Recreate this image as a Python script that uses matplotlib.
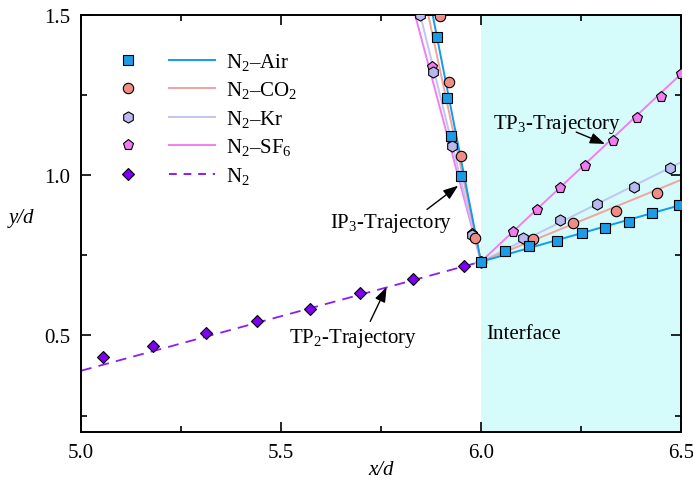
import matplotlib
matplotlib.use("Agg")
import matplotlib.pyplot as plt
from matplotlib.lines import Line2D
from matplotlib.legend_handler import HandlerTuple
from matplotlib.ticker import MultipleLocator, FormatStrFormatter

plt.rcParams["font.family"] = ["Liberation Serif", "DejaVu Serif"]
plt.rcParams["mathtext.fontset"] = "custom"
plt.rcParams["mathtext.rm"] = "Liberation Serif"
plt.rcParams["mathtext.it"] = "Liberation Serif:italic"
plt.rcParams["font.size"] = 15

# N2 single-phase trajectory (TP2)
n2_x = [5.056, 5.181, 5.312, 5.440, 5.572, 5.698, 5.829, 5.958]
n2_y = [0.433, 0.467, 0.508, 0.546, 0.583, 0.632, 0.677, 0.718]
n2_line_x = [5.0, 6.0]
n2_line_y = [0.39, 0.73]

# N2-Air
air_x = [5.891, 5.914, 5.924, 5.949, 6.0, 6.060, 6.121, 6.191, 6.252, 6.310, 6.371, 6.428, 6.496]
air_y = [1.430, 1.240, 1.121, 0.997, 0.73, 0.762, 0.780, 0.793, 0.820, 0.836, 0.853, 0.881, 0.907]
air_line_x = [5.879, 6.0, 6.5]
air_line_y = [1.5, 0.73, 0.907]

# N2-CO2
co2_x = [5.898, 5.921, 5.950, 5.985, 6.0, 6.131, 6.231, 6.338, 6.441]
co2_y = [1.495, 1.291, 1.061, 0.803, 0.73, 0.801, 0.851, 0.889, 0.945]
co2_line_x = [5.868, 6.0, 6.5]
co2_line_y = [1.5, 0.73, 0.985]

# N2-Kr
kr_x = [5.848, 5.881, 5.927, 5.977, 6.0, 6.106, 6.198, 6.289, 6.383, 6.473]
kr_y = [1.500, 1.321, 1.092, 0.812, 0.73, 0.803, 0.861, 0.910, 0.962, 1.021]
kr_line_x = [5.848, 6.0, 6.5]
kr_line_y = [1.5, 0.73, 1.040]

# N2-SF6
sf6_x = [5.877, 5.925, 5.977, 6.0, 6.079, 6.139, 6.198, 6.260, 6.330, 6.390, 6.449, 6.500]
sf6_y = [1.336, 1.113, 0.817, 0.73, 0.824, 0.892, 0.960, 1.028, 1.107, 1.177, 1.244, 1.315]
sf6_line_x = [5.835, 6.0, 6.5]
sf6_line_y = [1.5, 0.73, 1.315]

fig = plt.figure(figsize=(6.93, 4.81), dpi=100)
ax = fig.add_axes([0.1169, 0.1004, 0.8658, 0.8670])

ax.axvspan(6.0, 6.5, color="#d5fbfb", lw=0, zorder=0)

mk = dict(markeredgecolor="black", markeredgewidth=0.8, linestyle="none")

ax.plot(n2_line_x, n2_line_y, color="#8a1cf5", lw=1.3, dashes=(6, 4), zorder=2)
ax.plot(n2_x, n2_y, marker="D", ms=6.5, markerfacecolor="#7d00f0", zorder=3, **mk)

series = [
    (sf6_line_x, sf6_line_y, sf6_x, sf6_y, "#f27ef2", "#f07cf0", "p", 8),
    (kr_line_x, kr_line_y, kr_x, kr_y, "#c3c3f7", "#b9b9ef", "h", 8),
    (co2_line_x, co2_line_y, co2_x, co2_y, "#f4a29c", "#f08c86", "o", 7.5),
    (air_line_x, air_line_y, air_x, air_y, "#0d9cf0", "#1e9be6", "s", 6.8),
]
for lx, ly, px, py, lc, mc, m, ms in series:
    ax.plot(lx, ly, color=lc, lw=1.4, zorder=2)
    ax.plot(px, py, marker=m, ms=ms, markerfacecolor=mc, zorder=3, **mk)

# legend: marker column, line column, label
labels = ["N$_2$\u2013Air", "N$_2$\u2013CO$_2$", "N$_2$\u2013Kr", "N$_2$\u2013SF$_6$", "N$_2$"]
styles = [("#1e9be6", "#0d9cf0", "s", 6.8, "-"),
          ("#f08c86", "#f4a29c", "o", 7.5, "-"),
          ("#b9b9ef", "#c3c3f7", "h", 8, "-"),
          ("#f07cf0", "#f27ef2", "p", 8, "-"),
          ("#7d00f0", "#8a1cf5", "D", 6.5, "--")]
handles = []
for mc, lc, m, ms, ls in styles:
    hm = Line2D([], [], marker=m, ms=ms, markerfacecolor=mc, **mk)
    hl = Line2D([], [], color=lc, lw=1.4, linestyle=ls)
    if ls == "--":
        hl.set_dashes((4, 3.5))
    handles.append((hm, hl))
ax.legend(handles, labels, handler_map={tuple: HandlerTuple(ndivide=None, pad=0.87)},
          loc="upper left", bbox_to_anchor=(0.04, 0.913), frameon=False,
          handlelength=5.3, handletextpad=0.5, labelspacing=0.36,
          borderpad=0, borderaxespad=0)

arrow = dict(arrowstyle="-|>,head_length=0.6,head_width=0.22", color="black", lw=1.0,
             shrinkA=0, shrinkB=0)
ax.annotate("", xy=(5.943, 0.967), xytext=(5.865, 0.893), arrowprops=arrow)
ax.text(5.775, 0.852, "IP$_3$-Trajectory", ha="center", va="center")
ax.annotate("", xy=(6.310, 1.097), xytext=(6.238, 1.134), arrowprops=arrow)
ax.text(6.191, 1.162, "TP$_3$-Trajectory", ha="center", va="center")
ax.annotate("", xy=(5.764, 0.651), xytext=(5.723, 0.544), arrowprops=arrow)
ax.text(5.68, 0.495, "TP$_2$-Trajectory", ha="center", va="center")
ax.text(6.014, 0.505, "Interface", ha="left", va="center")

ax.set_xlim(5.0, 6.5)
ax.set_ylim(0.2, 1.5)
ax.xaxis.set_major_locator(MultipleLocator(0.5))
ax.xaxis.set_minor_locator(MultipleLocator(0.25))
ax.yaxis.set_major_locator(MultipleLocator(0.5))
ax.yaxis.set_minor_locator(MultipleLocator(0.25))
ax.xaxis.set_major_formatter(FormatStrFormatter("%.1f"))
ax.yaxis.set_major_formatter(FormatStrFormatter("%.1f"))
ax.tick_params(which="both", direction="in", top=True, right=True, width=1.2)
ax.tick_params(which="major", length=7, pad=8)
ax.tick_params(which="minor", length=4)
for s in ax.spines.values():
    s.set_linewidth(1.4)

ax.set_xlabel("x/d", style="italic")
ax.set_ylabel("y/d", style="italic", rotation=0)
ax.xaxis.set_label_coords(0.5, -0.068)
ax.yaxis.set_label_coords(-0.1, 0.49)

fig.savefig("out.png", dpi=100)
